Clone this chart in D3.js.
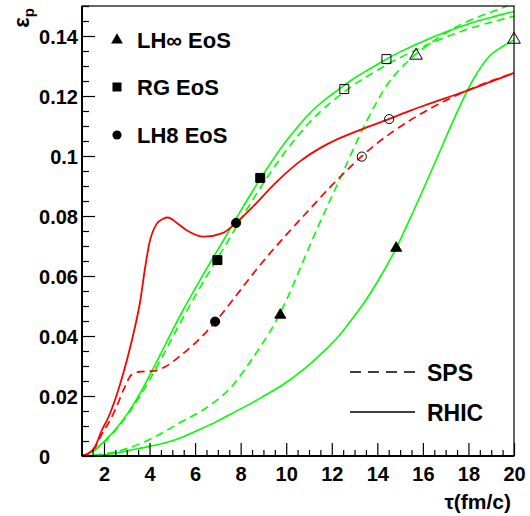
<!DOCTYPE html>
<html>
<head>
<meta charset="utf-8">
<script src="https://cdn.jsdelivr.net/npm/d3@7"></script>
<style>
  html, body { margin: 0; padding: 0; background: #fff; }
  svg { display: block; }
  text { font-family: "Liberation Sans", Arial, sans-serif; font-weight: bold; fill: #000; }
</style>
</head>
<body>
<svg id="chart" width="530" height="516"></svg>
<script>
// ---------------- data (tau in fm/c, epsilon_p) ----------------
const tauDomain = [1, 20];
const epsDomain = [0, 0.15];

const xMajorTicks = [2, 4, 6, 8, 10, 12, 14, 16, 18, 20];
const yMajorTicks = [0, 0.02, 0.04, 0.06, 0.08, 0.1, 0.12, 0.14];
const yTickLabels = ["0", "0.02", "0.04", "0.06", "0.08", "0.1", "0.12", "0.14"];

// LH8 EoS, RHIC (red solid)
const lh8RHIC = [[1,0],[1.3,0.0008],[1.6,0.003],[1.9,0.0085],[2.2,0.013],[2.5,0.019],[2.9,0.029],[3.3,0.041],[3.6,0.052],[3.8,0.0625],[4.0,0.0712],[4.3,0.0772],[4.6,0.0791],[4.8,0.0795],[5.2,0.0777],[5.7,0.0749],[6.4,0.0731],[7.2,0.0743],[7.8,0.0777],[8.5,0.0828],[9.5,0.0908],[10.6,0.0982],[11.5,0.1027],[12.3,0.1058],[13.25,0.1087],[14.5,0.1123],[15.5,0.1153],[16.2,0.1172],[17,0.1193],[17.8,0.1214],[19,0.1248],[20,0.1277]];
// LH8 EoS, SPS (red dashed)
const lh8SPS = [[1,0],[1.3,0.0007],[1.6,0.0027],[1.9,0.0072],[2.2,0.011],[2.5,0.0155],[2.9,0.0228],[3.2,0.027],[3.6,0.0281],[4.2,0.0284],[4.7,0.0298],[5.3,0.0331],[6.0,0.0376],[6.9,0.0448],[7.6,0.0515],[8.5,0.0603],[9,0.065],[10,0.0737],[11,0.082],[12,0.0902],[13,0.0977],[13.3,0.0998],[14,0.1043],[14.7,0.1082],[15.5,0.1122],[16.2,0.1153],[17,0.1185],[17.7,0.121],[18.5,0.1236],[19.2,0.1256],[20,0.1276]];
// RG EoS, RHIC (green solid)
const rgRHIC = [[1,0],[1.5,0.0015],[2,0.0048],[2.5,0.0088],[3,0.0138],[3.5,0.0198],[4,0.0268],[4.5,0.0342],[5,0.0418],[5.5,0.049],[6,0.0558],[6.5,0.0624],[7,0.0688],[7.5,0.0752],[8,0.0817],[8.5,0.088],[9,0.094],[9.5,0.0997],[10,0.105],[10.5,0.1097],[11,0.114],[11.5,0.1175],[12,0.1205],[12.5,0.1233],[13,0.126],[13.5,0.1283],[14,0.1305],[14.5,0.1327],[15,0.1347],[16,0.1382],[17,0.1413],[18,0.144],[19,0.1462],[20,0.1482]];
// RG EoS, SPS (green dashed)
const rgSPS = [[1,0],[1.5,0.0014],[2,0.0045],[2.5,0.0085],[3,0.0133],[3.5,0.019],[4,0.0253],[4.5,0.0322],[5,0.0394],[5.5,0.0465],[6,0.0533],[6.5,0.0598],[7,0.0661],[7.5,0.0724],[8,0.0788],[8.5,0.085],[9,0.091],[9.5,0.0966],[10,0.1018],[10.5,0.1066],[11,0.111],[11.5,0.1148],[12,0.1181],[12.5,0.1211],[13,0.1239],[13.5,0.1263],[14,0.1286],[14.5,0.1308],[15,0.1328],[16,0.1364],[17,0.1396],[18,0.1424],[19,0.1446],[20,0.1466]];
// LH-infinity EoS, RHIC (green solid)
const lhInfRHIC = [[1,0],[2,0.0004],[2.5,0.0009],[3,0.0017],[4,0.0032],[5,0.0051],[5.4,0.0062],[6,0.0082],[6.9,0.0113],[7.6,0.0141],[8.5,0.0177],[9,0.0199],[10,0.0245],[10.57,0.0277],[11,0.0304],[11.71,0.0353],[12.3,0.0399],[12.81,0.0448],[13.5,0.052],[14,0.058],[14.83,0.0693],[15.58,0.0815],[16.6,0.099],[17.33,0.1117],[17.85,0.1202],[18.21,0.1255],[18.6,0.1302],[18.95,0.1335],[19.5,0.1365],[20,0.1387]];
// LH-infinity EoS, SPS (green dashed)
const lhInfSPS = [[1,0],[1.5,0.0003],[2.5,0.0014],[3.2,0.003],[4,0.0055],[5.4,0.0114],[6.6,0.0166],[7.6,0.0231],[8.5,0.0323],[9,0.038],[9.5,0.0442],[10,0.0518],[10.5,0.0605],[11,0.0695],[11.5,0.0782],[12,0.0865],[12.5,0.0947],[13,0.1032],[13.5,0.1112],[14,0.1183],[14.5,0.1245],[15,0.129],[15.66,0.1337],[16,0.1358],[16.5,0.1385],[17,0.141],[18,0.145],[19,0.148],[20,0.1508]];

// markers
const triFilled = [[9.74,0.047],[14.83,0.0693]];
const triOpen   = [[15.7,0.1335],[20,0.1388]];
const sqFilled  = [[6.98,0.0653],[8.86,0.0927]];
const sqOpen    = [[12.55,0.1223],[14.4,0.1323]];
const cirFilled = [[6.88,0.0448],[7.8,0.0777]];
const cirOpen   = [[13.32,0.0998],[14.52,0.1123]];

const eosLegend = ["LH\u221E EoS", "RG EoS", "LH8 EoS"];
const energyLegend = ["SPS", "RHIC"];

// ---------------- layout ----------------
const svg = d3.select("#chart");
const L = 82, R = 514, T = 6, B = 456;
const x = d3.scaleLinear().domain(tauDomain).range([81.2, R]);
const y = d3.scaleLinear().domain(epsDomain).range([B, T]);

svg.append("defs").append("clipPath").attr("id", "clip")
  .append("rect").attr("x", L).attr("y", T).attr("width", R - L).attr("height", B - T);

const line = d3.line().x(d => x(d[0])).y(d => y(d[1])).curve(d3.curveMonotoneX);
const plot = svg.append("g").attr("clip-path", "url(#clip)");

const series = [
  {data: lhInfRHIC, color: "#00ff00", dash: null, w: 1.6},
  {data: lhInfSPS, color: "#00ff00", dash: "8,5", w: 1.6},
  {data: rgRHIC, color: "#00ff00", dash: null, w: 1.6},
  {data: rgSPS, color: "#00ff00", dash: "8,5", w: 1.6},
  {data: lh8SPS, color: "#ff0000", dash: "8,5", w: 1.7},
  {data: lh8RHIC, color: "#ff0000", dash: null, w: 1.8}
];
series.forEach(s => {
  plot.append("path").datum(s.data)
    .attr("d", line).attr("fill", "none")
    .attr("stroke", s.color).attr("stroke-width", s.w)
    .attr("stroke-dasharray", s.dash);
});

// markers
const triSym = d3.symbol().type(d3.symbolTriangle).size(52);
const sqSym = d3.symbol().type(d3.symbolSquare).size(81);
const cirSym = d3.symbol().type(d3.symbolCircle).size(66);
function drawMarkers(data, sym, filled) {
  svg.append("g").selectAll("path").data(data).join("path")
    .attr("d", sym)
    .attr("transform", d => `translate(${x(d[0])},${y(d[1])})`)
    .attr("fill", filled ? "#000" : "none")
    .attr("stroke", "#000").attr("stroke-width", 1);
}
drawMarkers(triFilled, triSym, true);
drawMarkers(triOpen, d3.symbol().type(d3.symbolTriangle).size(70), false);
drawMarkers(sqFilled, sqSym, true);
drawMarkers(sqOpen, sqSym, false);
drawMarkers(cirFilled, cirSym, true);
drawMarkers(cirOpen, cirSym, false);

// ---------------- axes ----------------
const yMinor = d3.range(0, 0.1501, 0.005).filter(v => !yMajorTicks.some(m => Math.abs(m - v) < 1e-9));
const xMinor = d3.range(1, 20.01, 0.5).filter(v => !xMajorTicks.includes(v));

const yAxisMinor = svg.append("g").attr("transform", `translate(${L},0)`)
  .call(d3.axisLeft(y).tickValues(yMinor).tickSize(-7).tickSizeOuter(0).tickFormat(""));
yAxisMinor.select(".domain").remove();
const yAxis = svg.append("g").attr("transform", `translate(${L},0)`)
  .call(d3.axisLeft(y).tickValues(yMajorTicks).tickSize(-13).tickSizeOuter(0).tickPadding(4)
    .tickFormat((d, i) => yTickLabels[i]));
yAxis.select(".domain").remove();
yAxis.selectAll("text").attr("font-size", 20).attr("font-family", "Liberation Sans, Arial, sans-serif").attr("font-weight", "bold").attr("dy", "0.36em");
yAxis.selectAll(".tick").filter(d => d === 0).select("text").attr("text-anchor", "start").attr("x", -43);

const xAxisMinor = svg.append("g").attr("transform", `translate(0,${B})`)
  .call(d3.axisBottom(x).tickValues(xMinor).tickSize(-6).tickSizeOuter(0).tickFormat(""));
xAxisMinor.select(".domain").remove();
const xAxis = svg.append("g").attr("transform", `translate(0,${B})`)
  .call(d3.axisBottom(x).tickValues(xMajorTicks).tickSize(-13).tickSizeOuter(0).tickPadding(11).tickFormat(d3.format("d")));
xAxis.select(".domain").remove();
xAxis.selectAll("text").attr("font-size", 20).attr("font-family", "Liberation Sans, Arial, sans-serif").attr("font-weight", "bold");

svg.selectAll(".tick line").attr("stroke", "#000").attr("stroke-width", 1.2);

// frame
svg.append("rect").attr("x", L).attr("y", T).attr("width", R - L).attr("height", B - T)
  .attr("fill", "none").attr("stroke", "#000").attr("stroke-width", 1.2);
svg.append("line").attr("x1", L).attr("x2", L).attr("y1", T).attr("y2", B).attr("stroke", "#000").attr("stroke-width", 2);
svg.append("line").attr("x1", L).attr("x2", R).attr("y1", B).attr("y2", B).attr("stroke", "#000").attr("stroke-width", 2);

// axis titles
const yt = svg.append("text").attr("transform", "translate(29,8) rotate(-90)")
  .attr("text-anchor", "end").attr("font-size", 22);
yt.append("tspan").text("\u03B5");
yt.append("tspan").attr("font-size", 15).attr("dy", 5).text("p");

svg.append("text").attr("x", 511).attr("y", 509).attr("text-anchor", "end")
  .attr("font-size", 21).text("\u03C4(fm/c)");

// ---------------- legends ----------------
const legY = [40, 87, 135];
const legSyms = [d3.symbol().type(d3.symbolTriangle).size(60), sqSym, cirSym];
eosLegend.forEach((name, i) => {
  svg.append("path").attr("d", legSyms[i]).attr("transform", `translate(117,${legY[i]})`).attr("fill", "#000");
  svg.append("text").attr("x", 137).attr("y", legY[i] + 8).attr("font-size", 22).text(name);
});

const eLegY = [372, 412];
energyLegend.forEach((name, i) => {
  svg.append("line").attr("x1", 350).attr("x2", 415).attr("y1", eLegY[i]).attr("y2", eLegY[i])
    .attr("stroke", "#000").attr("stroke-width", 1.5)
    .attr("stroke-dasharray", i === 0 ? "11,7" : null);
  svg.append("text").attr("x", 427).attr("y", eLegY[i] + 8.5).attr("font-size", 23).text(name);
});
</script>
</body>
</html>
